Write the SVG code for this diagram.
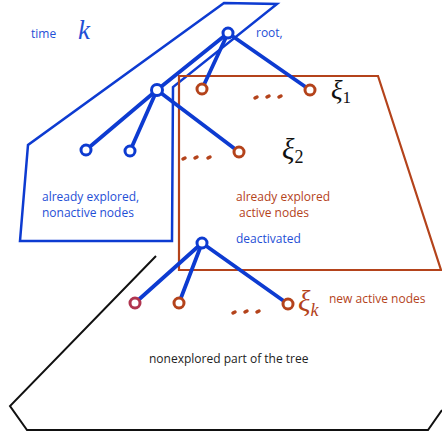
<svg xmlns="http://www.w3.org/2000/svg" width="442" height="434" viewBox="0 0 442 434">
<style>
.reg{fill:none;stroke-linejoin:miter}
.blue{stroke:#0d3bd1}
.orange{stroke:#b4431b}
.edge{stroke:#0d3bd1;stroke-width:3.8;stroke-linecap:round}
.nb{fill:#fff;stroke:#0d3bd1;stroke-width:3}
.no{fill:#fff;stroke:#b4431b;stroke-width:3}
.nr{fill:#fff;stroke:#b0354f;stroke-width:3}
.dots{stroke:#b4431b;stroke-width:3.5;stroke-linecap:round;fill:none}
.t{font-family:"Open Sans","Noto Sans",sans-serif;font-size:12px}
.tb{fill:#1f4fd6}
.to{fill:#b4431b}
.tk{fill:#222}
.m{font-family:"Liberation Serif","DejaVu Serif",serif;font-style:italic}
</style>
<g id="regions">
<polygon id="explored-nonactive" class="reg blue" stroke-width="2.5" points="224,3 277,4 173,87 172,241 20,241 28,145"/>
<polygon id="explored-active" class="reg orange" stroke-width="2.2" points="179,76 378,76 441,270 179,270"/>
<polyline id="nonexplored" class="reg" stroke="#111" stroke-width="2" points="156,256 10,406 27,430 428,430 442,410"/>
</g>
<g id="connectors">
<line class="edge" x1="228" y1="33" x2="157" y2="90"/>
<line class="edge" x1="228" y1="33" x2="202" y2="89"/>
<line class="edge" x1="228" y1="33" x2="310" y2="90"/>
<line class="edge" x1="157" y1="90" x2="86" y2="150"/>
<line class="edge" x1="157" y1="90" x2="130" y2="151"/>
<line class="edge" x1="157" y1="90" x2="239" y2="152"/>
<line class="edge" x1="202" y1="243" x2="135" y2="303"/>
<line class="edge" x1="202" y1="243" x2="179" y2="303"/>
<line class="edge" x1="202" y1="243" x2="288" y2="304"/>
</g>
<g id="n-root"><circle class="nb" cx="228" cy="33" r="5"/></g>
<g id="n-a"><circle class="nb" cx="157" cy="90" r="5.5"/></g>
<g id="n-b"><circle class="nb" cx="86" cy="150" r="5"/></g>
<g id="n-c"><circle class="nb" cx="130" cy="151" r="5"/></g>
<g id="n-deact"><circle class="nb" cx="202" cy="243" r="5"/></g>
<g id="n-o1"><circle class="no" cx="202" cy="89" r="5"/></g>
<g id="n-xi1"><circle class="no" cx="310" cy="90" r="5"/></g>
<g id="n-xi2"><circle class="no" cx="239" cy="152" r="5"/></g>
<g id="n-r"><circle class="nr" cx="135" cy="303" r="5"/></g>
<g id="n-o2"><circle class="no" cx="179" cy="303" r="5"/></g>
<g id="n-xik"><circle class="no" cx="288" cy="304" r="5"/></g>
<g id="ellipses">
<path class="dots" d="M255,98 l2,-1 M267,97 l2,-1 M279,97 l2,-1"/>
<path class="dots" d="M183,159 l2,-1 M195,158 l2,-1 M208,158 l2,-1"/>
<path class="dots" d="M233,313 l2,-1 M245,312 l2,-1 M257,312 l2,-1"/>
</g>
<g id="labels">
<text class="t tb" x="31" y="38">time</text>
<text class="m" x="78" y="39" font-size="27" fill="#1f4fd6">k</text>
<text class="t tb" x="256" y="37">root,</text>
<text class="m" x="331" y="99" font-size="27" fill="#111">ξ<tspan font-style="normal" font-size="17" dy="4">1</tspan></text>
<text class="m" x="282" y="159" font-size="29" fill="#111">ξ<tspan font-style="normal" font-size="18" dy="4">2</tspan></text>
<text class="m" x="298" y="311" font-size="29" fill="#b4431b">ξ<tspan font-size="18" dy="5">k</tspan></text>
<text class="t to" x="329" y="303">new active nodes</text>
<text class="t tb" x="42" y="201">already explored,</text>
<text class="t tb" x="42" y="217">nonactive nodes</text>
<text class="t to" x="236" y="201">already explored</text>
<text class="t to" x="239" y="217">active nodes</text>
<text class="t tb" x="236" y="243">deactivated</text>
<text class="t tk" x="149" y="363">nonexplored part of the tree</text>
</g>
</svg>
